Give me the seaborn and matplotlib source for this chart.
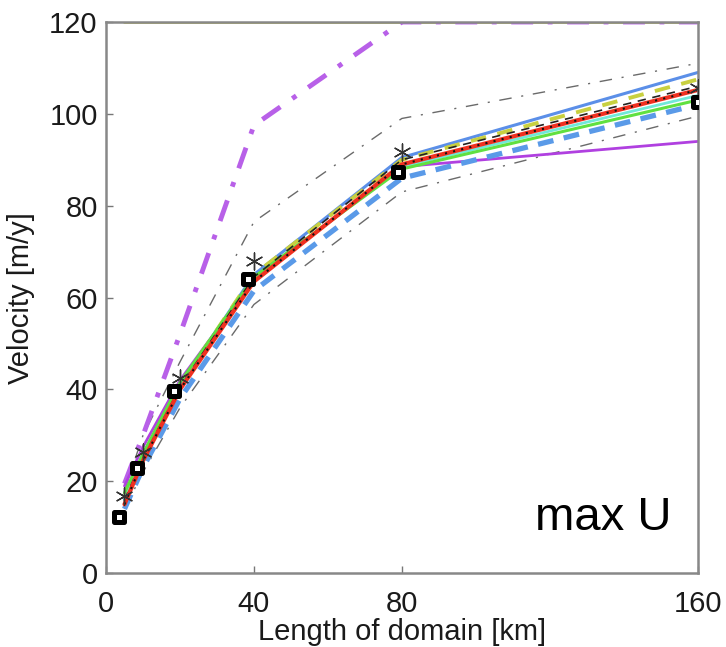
import numpy as np
import pandas as pd
import matplotlib
matplotlib.use("Agg")
import matplotlib.pyplot as plt
import seaborn as sns

# domain lengths (km) and velocities (m/y)
length_km = [5, 10, 20, 40, 80, 160]

red_main = [15.0, 24.5, 40.0, 63.5, 89.0, 105.2]
green = [17.5, 26.0, 41.5, 64.5, 88.0, 103.0]
cyan = [16.0, 25.0, 40.5, 64.0, 88.5, 104.0]
blue_solid = [16.0, 25.0, 41.0, 65.0, 90.5, 109.0]
yellow_dash = [16.5, 25.5, 41.0, 65.0, 90.0, 107.5]
black_dash = [16.0, 25.0, 40.5, 64.5, 90.0, 106.0]
blue_dash = [14.0, 23.0, 38.0, 61.5, 86.0, 102.0]
magenta_solid = [19.0, 27.5, 42.0, 64.0, 88.5, 94.0]
magenta_dashdot = [19.5, 30.0, 52.0, 97.5, 120.0, 120.0]
gray_upper = [18.0, 30.0, 46.0, 76.5, 99.0, 111.0]
gray_lower = [14.0, 22.0, 36.0, 58.5, 83.0, 99.5]
olive_top = [120.0, 120.0, 120.0, 120.0, 120.0, 120.0]

star_vals = [16.9, 26.4, 42.5, 67.9, 91.7, 105.7]
square_km = [3.5, 8.5, 18.5, 38.5, 79.0, 160.0]
square_vals = [12.2, 23.0, 39.7, 64.1, 87.3, 102.5]

x_ticks = [0, 40, 80, 160]
y_ticks = [0, 20, 40, 60, 80, 100, 120]

sns.set_theme(style="ticks")
plt.rcParams['font.family'] = ['Liberation Sans', 'DejaVu Sans']

fig, ax = plt.subplots(figsize=(7.26, 6.47), dpi=100)
fig.subplots_adjust(left=0.146, right=0.961, bottom=0.114, top=0.966)

# (values, color, linewidth, linestyle)
series = [
    (olive_top, "#c8c850", 2.0, "-"),
    (gray_upper, "#6a6a6a", 1.0, (0, (9, 7, 1.5, 7))),
    (gray_lower, "#6a6a6a", 1.0, (0, (9, 7, 1.5, 7))),
    (magenta_dashdot, "#b860e8", 3.5, (0, (4.5, 3, 1, 3))),
    (magenta_solid, "#b040e0", 2.0, "-"),
    (blue_solid, "#5b8fe8", 2.2, "-"),
    (yellow_dash, "#c8d040", 2.8, (0, (4, 3))),
    (blue_dash, "#5a9ae8", 3.8, (0, (3, 2))),
    (cyan, "#70e8d8", 2.0, "-"),
    (green, "#60e040", 2.2, "-"),
    (black_dash, "#222222", 1.2, (0, (5, 4))),
    (red_main, "#f03020", 3.0, "-"),
    (red_main, "#111111", 1.5, (0, (1, 3))),
]

for vals, col, lw, ls in series:
    df = pd.DataFrame({"km": length_km, "vel": vals})
    sns.lineplot(data=df, x="km", y="vel", ax=ax, color=col, lw=lw,
                 linestyle=ls, errorbar=None)

stars = pd.DataFrame({"km": length_km, "vel": star_vals})
sns.scatterplot(data=stars, x="km", y="vel", ax=ax, marker=(6, 2, 0), s=150,
                color="#333333", edgecolor="#333333", linewidth=1.0, zorder=5)

squares = pd.DataFrame({"km": square_km, "vel": square_vals})
sns.scatterplot(data=squares, x="km", y="vel", ax=ax, marker="s", s=60,
                facecolor="white", edgecolor="black", linewidth=3.6, zorder=6)

ax.set_xlim(0, 160)
ax.set_ylim(0, 120)
ax.set_xticks(x_ticks)
ax.set_yticks(y_ticks)
ax.tick_params(direction="in", length=5, width=1, color="#777777",
               labelsize=21, labelcolor="#1a1a1a")
ax.tick_params(axis="x", pad=12)
ax.tick_params(axis="y", pad=6)
for side in ["left", "right", "top", "bottom"]:
    ax.spines[side].set_color("#888888")
    ax.spines[side].set_linewidth(1.8)

ax.set_xlabel("Length of domain [km]", fontsize=21, color="#1a1a1a", labelpad=0)
ax.set_ylabel("Velocity [m/y]", fontsize=21, color="#1a1a1a", labelpad=10)

ax.text(0.955, 0.1, "max U", transform=ax.transAxes, ha="right", va="center",
        fontsize=34, color="black")

fig.savefig("out.png", dpi=100)
